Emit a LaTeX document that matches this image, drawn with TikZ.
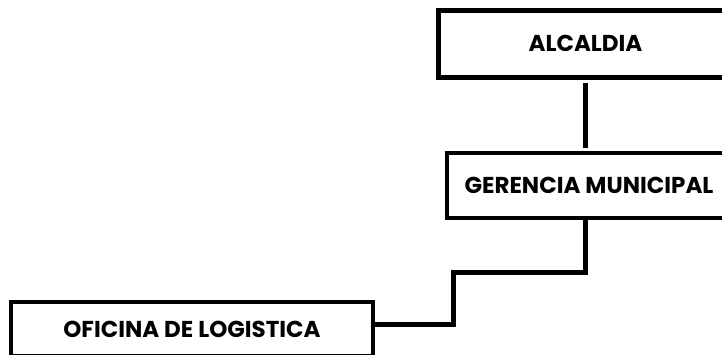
\documentclass[tikz,border=0pt]{standalone}
\usepackage{fontspec}
\setmainfont{Poppins}
\usetikzlibrary{positioning}

\tikzset{
  unit/.style = {draw, line width = 4pt, minimum height = 66pt,
    font = \fontsize{23}{27}\selectfont\bfseries},
  link/.style = {line width = 5pt}
}

\begin{document}
\begin{tikzpicture}[x = 1pt, y = -1pt]

  \useasboundingbox (0, 0) rectangle (722, 354);
  \clip (0, 0) rectangle (722, 354);

  \node[unit, line width = 5pt, minimum width = 294pt, minimum height = 67pt]
    (alcaldia) at (585.5, 43.5) {ALCALDIA};
  \node[unit, minimum width = 284pt, minimum height = 65pt]
    (gerencia) at (589, 185) {GERENCIA MUNICIPAL};
  \node[unit, minimum width = 362pt, minimum height = 54pt]
    (logistica) at (192, 329) {OFICINA DE LOGISTICA};

  % joints of the stepped line down to the office
  \coordinate (upper) at (453, 272);
  \coordinate (lower) at (453, 324);

  \draw[link, shorten < = 3pt, shorten > = 3pt]
    (alcaldia.south) -- (alcaldia.south |- gerencia.north);
  \draw[link] (gerencia.south -| alcaldia.south) |- (upper) -- (lower)
    -- (lower -| logistica.east);

\end{tikzpicture}
\end{document}
